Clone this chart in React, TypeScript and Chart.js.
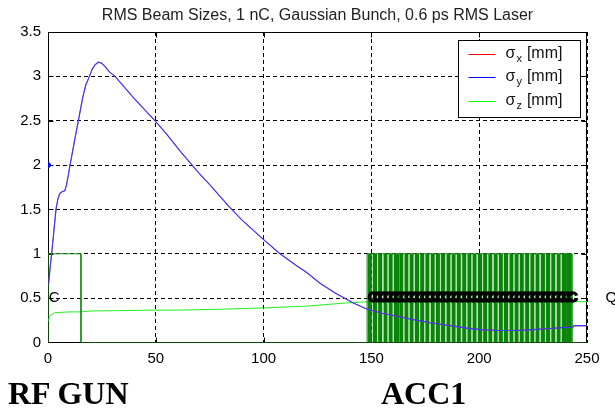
import React, { useEffect, useRef } from "react";
import { Chart, registerables } from "chart.js";

Chart.register(...registerables);

const SANS = "'Liberation Sans', Arial, Helvetica, sans-serif";
const SERIF = "'Liberation Serif', 'Times New Roman', serif";
const TITLE = "RMS Beam Sizes, 1 nC, Gaussian Bunch, 0.6 ps RMS Laser";

// transverse beam sizes along the beamline (z in m, sizes in mm)
const zBeam = [0.3, 1.0, 1.7, 2.7, 3.7, 4.6, 5.5, 6.5, 7.8, 8.6, 9.4, 10.2, 11.0, 12.5, 14.1, 16.0, 17.5, 19.2, 20.5, 21.8, 23.3, 24.8, 26.5, 28.5, 31.1, 35, 40, 45, 49.6, 55, 61.2, 70, 75, 84.4, 90, 95, 100, 107.6, 115, 120, 126, 133, 141.6, 147.8, 155, 163, 170, 178, 186.5, 195, 201.8, 210, 217.4, 225, 232.8, 240, 243.5, 244, 250];
const sigmaX = [0.66, 0.85, 1.0, 1.25, 1.5, 1.62, 1.68, 1.70, 1.71, 1.78, 1.88, 2.0, 2.1, 2.3, 2.5, 2.75, 2.9, 3.0, 3.08, 3.13, 3.16, 3.15, 3.11, 3.05, 3.0, 2.89, 2.75, 2.62, 2.5, 2.35, 2.16, 1.91, 1.78, 1.52, 1.38, 1.27, 1.16, 1.0, 0.87, 0.79, 0.67, 0.56, 0.445, 0.377, 0.33, 0.29, 0.255, 0.22, 0.19, 0.16, 0.143, 0.135, 0.135, 0.145, 0.158, 0.17, 0.174, 0.186, 0.186];
const sigmaY = [0.66, 0.85, 1.0, 1.25, 1.5, 1.62, 1.68, 1.70, 1.71, 1.78, 1.88, 2.0, 2.1, 2.3, 2.5, 2.75, 2.9, 3.0, 3.08, 3.13, 3.16, 3.15, 3.11, 3.05, 3.0, 2.89, 2.75, 2.62, 2.5, 2.35, 2.16, 1.91, 1.78, 1.52, 1.38, 1.27, 1.16, 1.0, 0.87, 0.79, 0.67, 0.56, 0.445, 0.377, 0.33, 0.29, 0.255, 0.22, 0.19, 0.16, 0.143, 0.135, 0.135, 0.145, 0.158, 0.17, 0.174, 0.19, 0.19];

// longitudinal bunch length
const zLong = [0.2, 0.3, 0.8, 1.5, 3, 6, 10, 15, 20, 30, 50, 61, 80, 100, 120, 138, 145, 150, 200, 250];
const sigmaZ = [0.24, 0.26, 0.29, 0.31, 0.335, 0.34, 0.345, 0.345, 0.355, 0.358, 0.365, 0.365, 0.375, 0.39, 0.41, 0.445, 0.455, 0.46, 0.46, 0.46];

// initial spot size marker at the cathode
const cathodeZ = [0];
const cathodeSigma = [2.0];

// lattice elements
const elementHeight = 1;
const labelLevel = 0.5;
const gunStart = 0;
const gunEnd = 15.3;
const gunLabelZ = 0.3;
const moduleStart = 148.0;
const moduleEnd = 243.0;
const cellStart = [148.3, 150.7, 153.1, 155.6, 158.0, 160.4, 162.9, 165.3, 167.7, 170.2, 172.6, 175.0, 177.5, 179.9, 182.3, 184.8, 187.2, 189.6, 192.1, 194.5, 196.9, 199.4, 201.8, 204.2, 206.7, 209.1, 211.5, 214.0, 216.4, 218.8, 221.3, 223.7, 226.1, 228.6, 231.0, 233.4, 235.9, 238.3, 240.7];
const cellEnd = [150.2, 152.6, 155.0, 157.5, 159.9, 162.9, 164.8, 167.2, 169.6, 172.1, 174.5, 176.9, 179.4, 181.8, 184.2, 186.7, 189.1, 191.5, 194.0, 196.4, 198.8, 201.3, 203.7, 206.1, 208.6, 211.0, 213.4, 215.9, 218.3, 220.7, 223.2, 225.6, 228.0, 230.5, 232.9, 235.3, 237.8, 240.7, 242.6];
const quadLabelZ = 258.6;
const beamlineEnd = 250;

const xTicks = [0, 50, 100, 150, 200, 250];
const yTicks = [0, 0.5, 1, 1.5, 2, 2.5, 3, 3.5];

const legendItems = [
  { sym: "σ", sub: "x", unit: "[mm]", color: "#ff0000" },
  { sym: "σ", sub: "y", unit: "[mm]", color: "#0000ff" },
  { sym: "σ", sub: "z", unit: "[mm]", color: "#00ff00" },
];

const pts = (xs: number[], ys: number[]) => xs.map((x, i) => ({ x, y: ys[i] }));

const rectOutline = (a: number, b: number, h: number) => [
  { x: a, y: 0 },
  { x: a, y: h },
  { x: b, y: h },
  { x: b, y: 0 },
];

const cellPath = cellStart.flatMap((s, i) => [
  ...rectOutline(s, cellEnd[i], elementHeight),
  { x: cellEnd[i], y: null as any },
]);

const elementLabels = [
  { z: gunLabelZ, text: "C", heavy: false },
  ...cellStart.map((z) => ({ z, text: "C", heavy: true })),
  { z: quadLabelZ, text: "Q", heavy: false },
];

const framePlugin = {
  id: "frame",
  beforeDatasetsDraw(chart: any) {
    const { ctx, chartArea, scales } = chart;
    const l = Math.floor(chartArea.left) + 0.5;
    const r = Math.ceil(chartArea.right) - 0.5;
    const t = Math.floor(chartArea.top) + 0.5;
    const b = Math.floor(chartArea.bottom) + 0.5;
    ctx.save();
    ctx.strokeStyle = "#000";
    ctx.lineWidth = 1;
    ctx.setLineDash([]);
    ctx.strokeRect(l, t, r - l, b - t);
    ctx.beginPath();
    const tl = 5;
    xTicks.slice(1, -1).forEach((v) => {
      const px = Math.round(scales.x.getPixelForValue(v)) + 0.5;
      ctx.moveTo(px, b);
      ctx.lineTo(px, b - tl);
      ctx.moveTo(px, t);
      ctx.lineTo(px, t + tl);
    });
    yTicks.slice(1, -1).forEach((v) => {
      const py = Math.round(scales.y.getPixelForValue(v)) + 0.5;
      ctx.moveTo(l, py);
      ctx.lineTo(l + tl, py);
      ctx.moveTo(r, py);
      ctx.lineTo(r - tl, py);
    });
    ctx.stroke();
    ctx.restore();
  },
};

const labelPlugin = {
  id: "elementLabels",
  afterDatasetsDraw(chart: any) {
    const { ctx, scales } = chart;
    ctx.save();
    ctx.fillStyle = "#000";
    ctx.strokeStyle = "#000";
    ctx.lineWidth = 1.3;
    ctx.textAlign = "left";
    ctx.textBaseline = "middle";
    const py = scales.y.getPixelForValue(labelLevel);
    elementLabels.forEach((e) => {
      const px = scales.x.getPixelForValue(e.z);
      ctx.font = `${e.heavy ? "bold " : ""}15px ${SANS}`;
      ctx.fillText(e.text, px, py);
      if (e.heavy) ctx.strokeText(e.text, px, py);
    });
    ctx.restore();
  },
};

const legendPlugin = {
  id: "boxLegend",
  afterDraw(chart: any) {
    const { ctx, chartArea } = chart;
    const w = 122;
    const h = 77;
    const bx = Math.round(chartArea.right) - 129 + 0.5;
    const by = Math.round(chartArea.top) + 8 + 0.5;
    ctx.save();
    ctx.fillStyle = "#fff";
    ctx.fillRect(bx, by, w, h);
    ctx.strokeStyle = "#000";
    ctx.lineWidth = 1;
    ctx.strokeRect(bx, by, w, h);
    legendItems.forEach((it, i) => {
      const ey = by + 13 + i * 23.5;
      ctx.strokeStyle = it.color;
      ctx.beginPath();
      ctx.moveTo(bx + 10, Math.round(ey) + 0.5);
      ctx.lineTo(bx + 37, Math.round(ey) + 0.5);
      ctx.stroke();
      ctx.fillStyle = "#111";
      ctx.textBaseline = "middle";
      ctx.textAlign = "left";
      let tx = bx + 47;
      ctx.font = `16px ${SANS}`;
      ctx.fillText(it.sym, tx, ey);
      tx += ctx.measureText(it.sym).width + 1;
      ctx.font = `11px ${SANS}`;
      ctx.fillText(it.sub, tx, ey + 5);
      tx += ctx.measureText(it.sub).width + 5;
      ctx.font = `16px ${SANS}`;
      ctx.fillText(it.unit, tx, ey);
    });
    ctx.restore();
  },
};

const axisCommon = {
  type: "linear" as const,
  grid: { color: "#000", lineWidth: 1, drawTicks: false },
  border: { display: true, color: "#000", width: 1, dash: [4, 3] },
};

export default function App() {
  const ref = useRef<HTMLCanvasElement>(null);

  useEffect(() => {
    const canvas = ref.current;
    if (!canvas) return;
    const line = { pointRadius: 0, borderWidth: 1, fill: false, tension: 0 };
    const chart = new Chart(canvas, {
      type: "line",
      data: {
        datasets: [
          { ...line, label: "σy", data: pts(zBeam, sigmaY), borderColor: "#3a3aff", borderWidth: 1.2, order: 0 },
          { ...line, label: "σx", data: pts(zBeam, sigmaX), borderColor: "#ff0000", borderWidth: 0.6, order: 1 },
          {
            label: "cathode",
            data: pts(cathodeZ, cathodeSigma),
            showLine: false,
            pointRadius: 2.5,
            pointBackgroundColor: "#0000ff",
            pointBorderColor: "#0000ff",
            order: 0,
          },
          {
            ...line,
            label: "cells",
            data: cellPath as any,
            borderWidth: 0,
            borderColor: "rgba(0,0,0,0)",
            backgroundColor: "#0a850a",
            fill: "origin",
            spanGaps: false,
            order: 2,
          },
          {
            ...line,
            label: "module",
            data: rectOutline(moduleStart, moduleEnd, elementHeight),
            borderColor: "#1c8c1c",
            backgroundColor: "rgba(60,170,60,0.35)",
            fill: "origin",
            order: 3,
          },
          { ...line, label: "gun", data: rectOutline(gunStart, gunEnd, elementHeight), borderColor: "#1c8c1c", order: 3 },
          { ...line, label: "beamline", data: [{ x: gunEnd, y: 0 }, { x: beamlineEnd, y: 0 }], borderColor: "#1c8c1c", order: 3 },
          { ...line, label: "σz", data: pts(zLong, sigmaZ), borderColor: "#22ee22", order: 4 },
        ],
      },
      options: {
        animation: false,
        responsive: false,
        devicePixelRatio: 1,
        events: [],
        layout: { padding: { left: 0, right: 28, top: 0, bottom: 0 } },
        plugins: {
          legend: { display: false },
          tooltip: { enabled: false },
          title: {
            display: true,
            fullSize: false,
            text: TITLE,
            color: "#222",
            font: { family: SANS, size: 16, weight: "normal" },
            padding: { top: 6, bottom: 6.8 },
          },
        },
        scales: {
          x: {
            ...axisCommon,
            min: 0,
            max: 250,
            afterBuildTicks: (s: any) => {
              s.ticks = xTicks.map((v) => ({ value: v }));
            },
            afterFit: (s: any) => {
              s.height = 65.5;
            },
            ticks: {
              font: { family: SANS, size: 15 },
              color: "#000",
              padding: 7,
              maxRotation: 0,
              autoSkip: false,
              callback: (v: any) => String(v),
            },
          },
          y: {
            ...axisCommon,
            min: 0,
            max: 3.5,
            afterBuildTicks: (s: any) => {
              s.ticks = yTicks.map((v) => ({ value: v }));
            },
            afterFit: (s: any) => {
              s.width = 48;
            },
            ticks: {
              font: { family: SANS, size: 15 },
              color: "#000",
              padding: 7,
              callback: (v: any) => String(v),
            },
          },
        },
      } as any,
      plugins: [framePlugin, labelPlugin, legendPlugin],
    });
    return () => chart.destroy();
  }, []);

  const sectionLabel: React.CSSProperties = {
    position: "absolute",
    top: 377,
    font: `bold 32px ${SERIF}`,
    lineHeight: "32px",
    whiteSpace: "nowrap",
    color: "#000",
  };

  return (
    <div style={{ position: "absolute", left: 0, top: 0, width: 615, height: 408, background: "#fff" }}>
      <canvas ref={ref} width={615} height={408} style={{ display: "block", width: 615, height: 408 }} />
      <div style={{ ...sectionLabel, left: 8 }}>RF GUN</div>
      <div style={{ ...sectionLabel, left: 381 }}>ACC1</div>
    </div>
  );
}
